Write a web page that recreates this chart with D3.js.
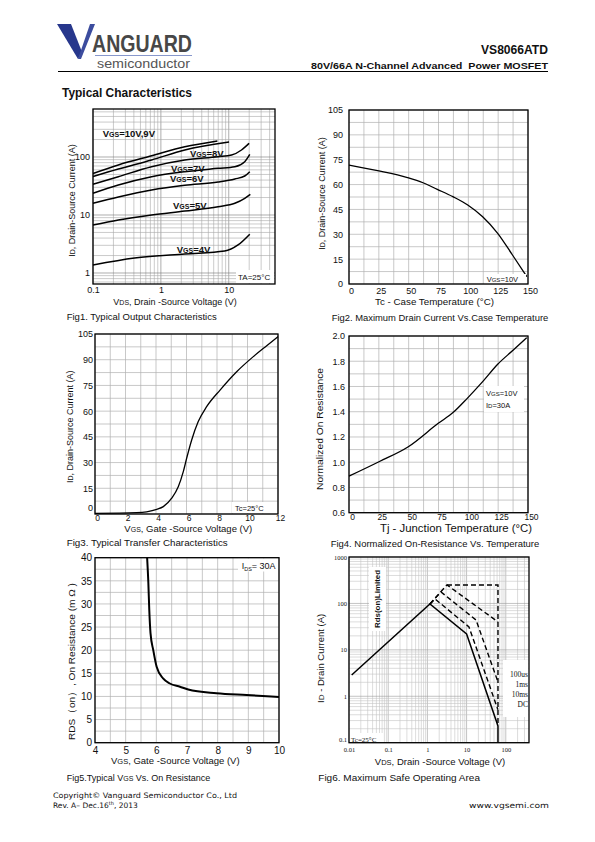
<!DOCTYPE html>
<html><head><meta charset="utf-8">
<script src="https://cdn.jsdelivr.net/npm/d3@7"></script>
<style>body{margin:0;background:#fff} svg{display:block} text{white-space:pre}</style>
</head><body><svg id="c" width="595" height="842"></svg>
<script>
// ---------- DATA ----------
// Fig1: Typical output characteristics  [VDS (V), ID (A)]
const fig1Vgs10 = [[0.1,52],[0.236,73],[0.73,105],[2.25,150],[6.8,189]];
const fig1Vgs9  = [[0.1,46],[0.236,62],[0.73,89],[2.25,132],[10.1,181]];
const fig1Vgs8  = [[0.1,33.8],[0.236,45.8],[0.73,68],[2.25,88.8],[6.96,101],[11,108],[15.4,132],[19.9,172]];
const fig1Vgs7  = [[0.1,23.7],[0.236,32.9],[0.73,45.8],[2.25,55.8],[6.96,63.8],[12.3,68],[17.2,83],[20.4,111]];
const fig1Vgs6  = [[0.1,15.9],[0.236,20.4],[0.73,27],[2.25,32.5],[6.96,37],[12.3,41.8],[17.2,47],[20.4,55.8]];
const fig1Vgs5  = [[0.1,6.7],[0.236,8.2],[0.73,10],[2.25,11.7],[6.96,13.9],[12.3,15.9],[17.2,19.4],[20.8,22.7]];
const fig1Vgs4  = [[0.1,1.37],[0.41,1.81],[2.25,2.13],[8.7,2.39],[13.7,3.04],[20.4,4.66]];
const fig1XTicks = [0.1, 1, 10];
const fig1XLabels = ["0.1", "1", "10"];
const fig1YTicks = [1, 10, 100];
const fig1YLabels = ["1", "10", "100"];

// Fig2: Max drain current vs case temperature
const fig2Tc = [0, 24, 49, 62, 74, 87, 99.5, 112, 124.6, 137, 149];
const fig2Id = [71.8, 68.4, 64.2, 61.1, 57.1, 52.7, 47.7, 40.6, 30.6, 17.5, 4.4];
const fig2XTicks = [0, 25, 50, 75, 100, 125, 150];
const fig2YTicks = [0, 15, 30, 45, 60, 75, 90, 105];

// Fig3: Transfer characteristics
const fig3Vgs = [0, 2.73, 3.39, 4.05, 4.48, 5.03, 5.46, 5.79, 6.01, 6.34, 6.77, 7.32, 8.2, 9.29, 10.38, 11.26, 12];
const fig3Id  = [0.4, 0.8, 1.3, 2.7, 4.3, 9.2, 15.9, 24.7, 32.5, 43.2, 53.9, 62.6, 72.3, 83, 91.8, 98.2, 103.5];
const fig3XTicks = [0, 2, 4, 6, 8, 10, 12];
const fig3YTicks = [0, 15, 30, 45, 60, 75, 90, 105];

// Fig4: Normalized on-resistance vs temperature
const fig4Tj = [0, 25.1, 49.7, 74.8, 87.4, 99.1, 112, 124.6, 137.7, 148.9];
const fig4R  = [0.89, 1.004, 1.123, 1.308, 1.395, 1.506, 1.638, 1.776, 1.889, 1.987];
const fig4XTicks = [0, 25, 50, 75, 100, 125, 150];
const fig4YTicks = [0.6, 0.8, 1.0, 1.2, 1.4, 1.6, 1.8, 2.0];

// Fig5: VGS vs on-resistance
const fig5Vgs = [5.70, 5.74, 5.77, 5.81, 5.90, 6.01, 6.22, 6.44, 6.77, 7.04, 7.96, 8.94, 10];
const fig5R   = [40, 34.5, 28.7, 23.7, 20, 16.4, 13.9, 12.8, 12.1, 11.5, 10.7, 10.3, 9.9];
const fig5XTicks = [4, 5, 6, 7, 8, 9, 10];
const fig5YTicks = [0, 5, 10, 15, 20, 25, 30, 35, 40];

// Fig6: Safe operating area [VDS (V), ID (A)]
const fig6Dc    = [[0.0117,2.88],[1.16,97.5],[10,22],[63.2,0.23],[63.2,0.1]];
const fig6Ms10  = [[1.16,97.5],[1.56,125],[11.5,31.2],[63.2,0.51]];
const fig6Ms1   = [[1.16,97.5],[2.22,177],[17.4,44],[63.2,2.03]];
const fig6Us100 = [[1.16,97.5],[3.16,250],[63.2,40]];
const fig6Limit = [[3.16,250],[63.2,250],[63.2,0.23]];
const fig6XTicks = [0.01, 0.1, 1, 10, 100];
const fig6XLabels = ["0.01", "0.1", "1", "10", "100"];
const fig6YTicks = [0.1, 1, 10, 100, 1000];
const fig6YLabels = ["0.1", "1", "10", "100", "1000"];
const fig6Legend = ["100us", "1ms", "10ms", "DC"];

// ---------- DRAWING ----------
const SANS = '"Liberation Sans", Arial, Helvetica, sans-serif';
const SERIF = '"Liberation Serif", "Times New Roman", serif';
const VERD = '"DejaVu Sans", Verdana, sans-serif';
const svg = d3.select("#c");
const frames = [];

function txt(parent, x, y, s, o = {}) {
  const t = parent.append("text").attr("x", x).attr("y", y)
    .attr("font-family", o.font || SANS).attr("font-size", o.size || 9)
    .attr("font-weight", o.bold ? "bold" : null).attr("fill", o.fill || "#111")
    .attr("text-anchor", o.anchor || "start");
  if (o.len) t.attr("textLength", o.len).attr("lengthAdjust", "spacingAndGlyphs");
  if (o.rot) t.attr("transform", `rotate(-90,${x},${y})`);
  if (Array.isArray(s)) {
    s.forEach(p => {
      const sp = t.append("tspan").text(p[0]);
      if (p[1]) sp.attr("font-size", p[1]);
      if (p[2]) sp.attr("baseline-shift", p[2]);
    });
  } else t.text(s);
  return t;
}

function panel(o) {
  const g = svg.append("g");
  const x = o.x, y = o.y;
  const [X0, X1] = x.range(), [Y1, Y0] = y.range();
  const isMajor = d => Math.abs(Math.log10(d) - Math.round(Math.log10(d))) < 1e-6;
  g.append("g").selectAll("line").data(o.xGrid).join("line")
    .attr("x1", d => x(d)).attr("x2", d => x(d)).attr("y1", Y0).attr("y2", Y1)
    .attr("stroke", d => (o.log && isMajor(d)) ? o.gridMajor : o.gridColor).attr("stroke-width", o.gridW || 0.7);
  g.append("g").selectAll("line").data(o.yGrid).join("line")
    .attr("y1", d => y(d)).attr("y2", d => y(d)).attr("x1", X0).attr("x2", X1)
    .attr("stroke", d => (o.log && isMajor(d)) ? o.gridMajor : o.gridColor).attr("stroke-width", o.gridW || 0.7);
  const ax = g.append("g").attr("transform", `translate(${o.xdx || 0},${Y1})`)
    .call(d3.axisBottom(x).tickValues(o.xTicks).tickFormat((d, i) => o.xLabels ? o.xLabels[i] : String(d))
      .tickSize(0).tickPadding(o.xPad));
  ax.select(".domain").remove();
  ax.selectAll("text").attr("font-size", o.xTick || o.tick || 9).attr("font-family", o.tickFont || SANS).attr("fill", "#111");
  const ay = g.append("g").attr("transform", `translate(${X0},0)`)
    .call(d3.axisLeft(y).tickValues(o.yTicks).tickFormat((d, i) => o.yLabels ? o.yLabels[i] : (o.yFmt ? o.yFmt(d) : String(d)))
      .tickSize(0).tickPadding(o.yPad));
  ay.select(".domain").remove();
  ay.selectAll("text").attr("font-size", o.tick || 9).attr("font-family", o.tickFont || SANS).attr("fill", "#111");
  if (o.nudgeBottom) ay.selectAll(".tick").filter(d => d === o.yTicks[0]).select("text").attr("dy", o.nudgeBottom);
  frames.push([X0, Y0, X1 - X0, Y1 - Y0]);
  return g;
}

function whiteBox(g, x, y, w, h) {
  g.append("rect").attr("x", x).attr("y", y).attr("width", w).attr("height", h).attr("fill", "#fff");
}

// ---------- HEADER ----------
const hd = svg.append("g");
hd.append("path").attr("d", "M57,24 L71,24 L82,52 L78,59 Z").attr("fill", "#27378c");
hd.append("path").attr("d", "M78,59 L90,24 L95,24 L81,59 Z").attr("fill", "#3c4c9e");
txt(hd, 92, 52, "ANGUARD", { size: 23, bold: true, fill: "#474747", len: 100 });
hd.append("line").attr("x1", 95).attr("x2", 192).attr("y1", 55.5).attr("y2", 55.5).attr("stroke", "#8797cc").attr("stroke-width", 1);
txt(hd, 97, 68, "semiconductor", { size: 13, fill: "#555", len: 93 });
hd.append("line").attr("x1", 58).attr("x2", 548).attr("y1", 71.5).attr("y2", 71.5).attr("stroke", "#000").attr("stroke-width", 1.2);
txt(hd, 548, 54, "VS8066ATD", { size: 12.5, bold: true, anchor: "end", len: 67 });
txt(hd, 548, 69, "80V/66A N-Channel Advanced  Power MOSFET", { size: 9.5, bold: true, anchor: "end", len: 237 });
txt(hd, 62, 97, "Typical Characteristics", { size: 13, bold: true, len: 130 });

// ---------- FIG 1 ----------
{
  const x = d3.scaleLog().domain([0.1, 48]).range([93, 275]);
  const y = d3.scaleLog().domain([0.646, 672]).range([284, 109]);
  const g = panel({ x, y, log: true, xGrid: x.ticks(), yGrid: y.ticks(), gridColor: "#a8a8a8", gridMajor: "#777", gridW: 0.6,
    xTicks: fig1XTicks, xLabels: fig1XLabels, yTicks: fig1YTicks, yLabels: fig1YLabels, xPad: 3, yPad: 3 });
  const line = d3.line().x(d => x(d[0])).y(d => y(d[1])).curve(d3.curveMonotoneX);
  [fig1Vgs10, fig1Vgs9, fig1Vgs8, fig1Vgs7, fig1Vgs6, fig1Vgs5, fig1Vgs4].forEach(s =>
    g.append("path").attr("d", line(s)).attr("fill", "none").attr("stroke", "#000").attr("stroke-width", 1.5));
  const lab = [["=10V,9V", 102.7, 137], ["=8V", 190, 156.5], ["=7V", 171, 171.5], ["=6V", 170, 181.5], ["=5V", 173, 208.5], ["=4V", 176.7, 252.5]];
  lab.forEach(l => txt(g, l[1], l[2], [["V"], ["GS", 7], [l[0]]], { size: 9.5, bold: true }));
  whiteBox(g, 236, 270, 38, 13);
  txt(g, 238, 280, "TA=25°C", { size: 8 });
  txt(svg, 71.7, 200.5, [["I"], ["D", 7], [", Drain-Source Current (A)"]], { size: 9, anchor: "middle", rot: true }).attr("dy", "0.35em");
  txt(svg, 175, 305, [["V"], ["DS", 7], [", Drain -Source Voltage (V)"]], { size: 9, anchor: "middle" });
  txt(svg, 66.7, 320, "Fig1. Typical Output Characteristics", { size: 9, len: 150 });
}

// ---------- FIG 2 ----------
{
  const x = d3.scaleLinear().domain([0, 150]).range([349, 528]);
  const y = d3.scaleLinear().domain([0, 105]).range([284, 110]);
  const g = panel({ x, y, xGrid: d3.range(0, 150.1, 12.5), yGrid: d3.range(0, 105.1, 7.5), gridColor: "#b0b0b0",
    xTicks: fig2XTicks, yTicks: fig2YTicks, xPad: 3.6, yPad: 6, xdx: 2 });
  const line = d3.line().x((d, i) => x(fig2Tc[i])).y(d => y(d)).curve(d3.curveMonotoneX);
  g.append("path").attr("d", line(fig2Id)).attr("fill", "none").attr("stroke", "#000").attr("stroke-width", 1.3);
  whiteBox(g, 484, 274, 42, 9.5);
  txt(g, 486.7, 282, [["V"], ["GS", 6], ["=10V"]], { size: 7.5 });
  txt(svg, 321.7, 193.5, [["I"], ["D", 7], [", Drain-Source Current (A)"]], { size: 9, anchor: "middle", rot: true }).attr("dy", "0.35em");
  txt(svg, 434.5, 305, "Tc - Case Temperature (°C)", { size: 9.5, anchor: "middle", len: 119 });
  txt(svg, 331.7, 321, "Fig2. Maximum Drain Current Vs.Case Temperature", { size: 9, len: 216.6 });
}

// ---------- FIG 3 ----------
{
  const x = d3.scaleLinear().domain([0, 12]).range([95, 278]);
  const y = d3.scaleLinear().domain([0, 105]).range([514, 334]);
  const g = panel({ x, y, xGrid: d3.range(0, 12.1, 1), yGrid: d3.range(0, 105.1, 7.5), gridColor: "#b0b0b0",
    xTicks: fig3XTicks, yTicks: fig3YTicks, xPad: 1, yPad: 2, xdx: 2, xTick: 8.5, nudgeBottom: "-0.4em" });
  const line = d3.line().x((d, i) => x(fig3Vgs[i])).y(d => y(d)).curve(d3.curveMonotoneX);
  g.append("path").attr("d", line(fig3Id)).attr("fill", "none").attr("stroke", "#000").attr("stroke-width", 1.3);
  whiteBox(g, 232, 502, 45, 11);
  txt(g, 235, 510.5, "Tc=25°C", { size: 7.5 });
  txt(svg, 70, 426.7, [["I"], ["D", 7], [", Drain-Source Current (A)"]], { size: 9, anchor: "middle", rot: true }).attr("dy", "0.35em");
  txt(svg, 188.3, 531.5, [["V"], ["GS", 7], [", Gate -Source Voltage (V)"]], { size: 9.5, anchor: "middle" });
  txt(svg, 66.7, 545.5, "Fig3. Typical Transfer Characteristics", { size: 9, len: 161 });
}

// ---------- FIG 4 ----------
{
  const x = d3.scaleLinear().domain([0, 150]).range([349, 528]);
  const y = d3.scaleLinear().domain([0.6, 2.0]).range([512.7, 336]);
  const g = panel({ x, y, xGrid: d3.range(0, 150.1, 12.5), yGrid: d3.range(0, 14.1, 1).map(k => 0.6 + k * 0.1), gridColor: "#b0b0b0",
    xTicks: fig4XTicks, yTicks: fig4YTicks, xPad: 1.5, yPad: 4, xdx: 3, xTick: 8.5, yFmt: d3.format(".1f") });
  const line = d3.line().x((d, i) => x(fig4Tj[i])).y(d => y(d)).curve(d3.curveMonotoneX);
  g.append("path").attr("d", line(fig4R)).attr("fill", "none").attr("stroke", "#000").attr("stroke-width", 1.3);
  whiteBox(g, 484, 386, 40, 26);
  txt(g, 486, 396, [["V"], ["GS", 6], ["=10V"]], { size: 7.5 });
  txt(g, 486, 408, [["I"], ["D", 6], ["=30A"]], { size: 7.5 });
  txt(svg, 320, 429, "Normalized On Resistance", { size: 9.5, anchor: "middle", rot: true, len: 122 }).attr("dy", "0.35em");
  txt(svg, 456, 531.5, "Tj - Junction Temperature (°C)", { size: 10, anchor: "middle", len: 152 });
  txt(svg, 330.7, 546.5, "Fig4. Normalized On-Resistance Vs. Temperature", { size: 9, len: 208.6 });
}

// ---------- FIG 5 ----------
{
  const x = d3.scaleLinear().domain([4, 10]).range([95, 279]);
  const y = d3.scaleLinear().domain([0, 40]).range([742.7, 557.7]);
  const g = panel({ x, y, xGrid: d3.range(4, 10.01, 0.5), yGrid: d3.range(0, 40.1, 2.5), gridColor: "#b0b0b0",
    xTicks: fig5XTicks, yTicks: fig5YTicks, xPad: 4, yPad: 3, tick: 10 });
  const line = d3.line().x((d, i) => x(fig5Vgs[i])).y(d => y(d)).curve(d3.curveMonotoneX);
  g.append("path").attr("d", line(fig5R)).attr("fill", "none").attr("stroke", "#000").attr("stroke-width", 2);
  whiteBox(g, 238, 558.5, 40, 13);
  txt(g, 241.7, 568.5, [["I"], ["DS", 5.5, "-2"], ["= 30A"]], { size: 9 });
  txt(svg, 71.7, 661.5, "RDS（on）, On Resistance (m Ω )", { size: 9.5, anchor: "middle", rot: true, len: 157 }).attr("dy", "0.35em");
  txt(svg, 175.3, 764, [["V"], ["GS", 7.5], [", Gate -Source Voltage (V)"]], { size: 9.5, anchor: "middle" });
  txt(svg, 66.7, 781, [["Fig5.Typical V"], ["GS", 7], [" Vs. On Resistance"]], { size: 9 });
}

// ---------- FIG 6 ----------
{
  const x = d3.scaleLog().domain([0.01, 391]).range([349, 529]);
  const y = d3.scaleLog().domain([0.1, 1000]).range([742.7, 557]);
  const g = panel({ x, y, log: true, xGrid: x.ticks(), yGrid: y.ticks(), gridColor: "#c4c4c4", gridMajor: "#9a9a9a", gridW: 0.6,
    xTicks: fig6XTicks, xLabels: fig6XLabels, yTicks: fig6YTicks, yLabels: fig6YLabels, xPad: 4.7, yPad: 2,
    tick: 6.5, tickFont: SERIF, nudgeBottom: "-0.25em" });
  const line = d3.line().x(d => x(d[0])).y(d => y(d[1]));
  g.append("path").attr("d", line(fig6Dc)).attr("fill", "none").attr("stroke", "#000").attr("stroke-width", 1.5);
  [fig6Ms10, fig6Ms1, fig6Us100, fig6Limit].forEach(s =>
    g.append("path").attr("d", line(s)).attr("fill", "none").attr("stroke", "#000").attr("stroke-width", 1.4).attr("stroke-dasharray", "5,3"));
  whiteBox(g, 369, 567, 17, 64);
  txt(g, 380, 599, "Rds(on)Limited", { size: 7, bold: true, anchor: "middle", rot: true, len: 58, font: SANS });
  whiteBox(g, 503, 660, 25.5, 57);
  fig6Legend.forEach((s, i) => txt(g, 528, 677 + i * 10, s, { size: 7.5, anchor: "end", font: SERIF }));
  whiteBox(g, 350, 733, 33, 9);
  txt(g, 351, 741.5, "Tc=25°C", { size: 7, font: SERIF });
  txt(svg, 320.7, 658.3, [["I"], ["D", 8], [" - Drain Current (A)"]], { size: 9.5, anchor: "middle", rot: true }).attr("dy", "0.35em");
  txt(svg, 440, 765, [["V"], ["DS", 7.5], [", Drain -Source Voltage (V)"]], { size: 9.5, anchor: "middle" });
  txt(svg, 318.3, 781, "Fig6. Maximum Safe Operating Area", { size: 9, len: 161.7 });
}

// frames on top
frames.forEach(f => svg.append("rect").attr("x", f[0]).attr("y", f[1]).attr("width", f[2]).attr("height", f[3])
  .attr("fill", "none").attr("stroke", "#000").attr("stroke-width", 1.3));

// ---------- FOOTER ----------
txt(svg, 53, 798, "Copyright© Vanguard Semiconductor Co., Ltd", { size: 7.5, font: VERD, len: 184 });
txt(svg, 53, 808, [["Rev. A– Dec.16"], ["th", 5, "super"], [", 2013"]], { size: 7.5, font: VERD });
txt(svg, 549, 808, "www.vgsemi.com", { size: 7.5, font: VERD, anchor: "end", len: 80 });
</script></body></html>
